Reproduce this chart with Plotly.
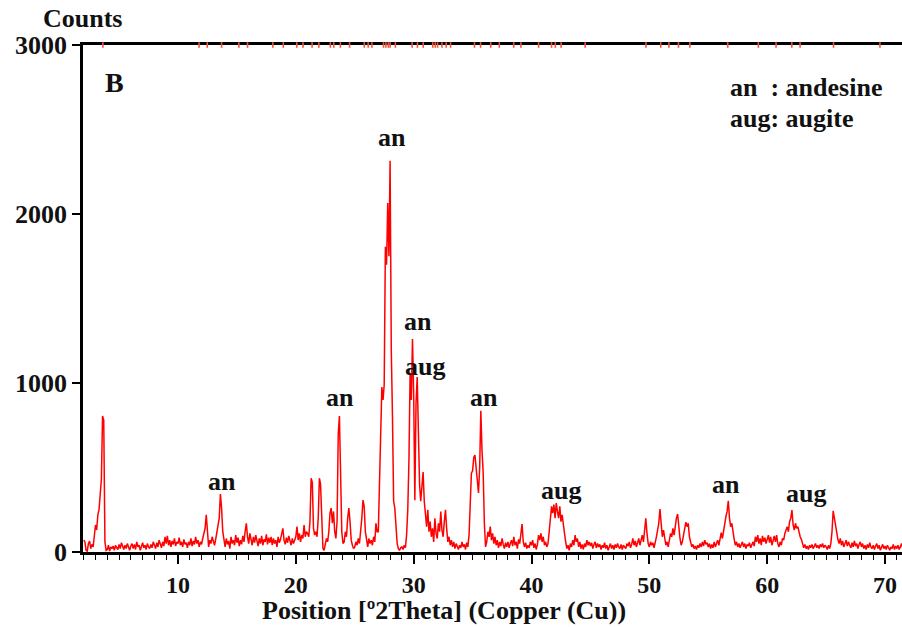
import plotly.graph_objects as go

# ---- data -------------------------------------------------------------
THETA_START = 2.0   # first 2Theta position
THETA_STEP = 0.1    # step between readings

# counts, one row per degree (d.0 ... d.9)
COUNTS = [
    70, 60, 10, 5, 50, 65, 20, 45, 30, 100,            # 2
    160, 130, 220, 250, 370, 430, 805, 780, 60, 10,    # 3
    15, 40, 5, 30, 20, 35, 10, 40, 25, 15,             # 4
    45, 20, 55, 30, 15, 40, 20, 50, 25, 10,            # 5
    35, 50, 20, 45, 15, 60, 30, 40, 10, 35,            # 6
    55, 25, 40, 15, 50, 30, 20, 45, 25, 60,            # 7
    35, 20, 55, 30, 70, 40, 25, 60, 35, 90,            # 8
    50, 95, 40, 70, 30, 65, 45, 80, 35, 60,            # 9
    50, 85, 40, 60, 30, 75, 45, 55, 25, 60,            # 10
    40, 80, 35, 65, 45, 90, 50, 70, 30, 60,            # 11
    45, 80, 110, 140, 220, 90, 30, 70, 50, 90,         # 12
    60, 40, 75, 110, 150, 200, 343, 260, 120, 60,      # 13
    30, 80, 45, 65, 20, 90, 50, 70, 40, 100,           # 14
    55, 85, 35, 70, 45, 95, 60, 120, 170, 90,          # 15
    50, 110, 70, 40, 90, 55, 100, 60, 35, 80,          # 16
    50, 95, 40, 75, 60, 105, 45, 85, 55, 90,           # 17
    40, 80, 50, 70, 30, 90, 55, 75, 100, 140,          # 18
    70, 45, 85, 55, 95, 60, 40, 80, 50, 70,            # 19
    90, 150, 70, 110, 60, 100, 80, 160, 90, 120,       # 20
    110, 90, 180, 437, 410, 140, 100, 120, 90, 200,    # 21
    437, 400, 150, 20, 10, 50, 80, 60, 120, 230,       # 22
    260, 170, 240, 120, 80, 180, 700, 805, 460, 120,   # 23
    50, 60, 120, 90, 200, 260, 180, 70, 40, 20,        # 24
    30, 60, 40, 80, 50, 110, 200, 307, 270, 120,       # 25
    60, 30, 80, 50, 70, 40, 90, 60, 170, 120,          # 26
    120, 390, 700, 976, 900, 990, 1806, 1700, 2065, 1750,  # 27
    2315, 1200, 810, 300, 260, 120, 50, 20, 10, 25,    # 28
    30, 15, 40, 25, 100, 250, 544, 1060, 900, 1260,    # 29
    940, 307, 880, 1035, 700, 400, 300, 380, 473, 300, # 30
    207, 150, 250, 120, 180, 90, 140, 60, 200, 110,    # 31
    80, 170, 120, 240, 130, 90, 180, 250, 140, 60,     # 32
    90, 40, 70, 30, 60, 20, 50, 35, 15, 40,            # 33
    25, 60, 30, 45, 15, 55, 30, 100, 250, 467,         # 34
    480, 560, 574, 500, 420, 349, 497, 836, 600, 467,  # 35
    170, 30, 60, 120, 90, 150, 70, 110, 50, 90,        # 36
    40, 70, 25, 60, 35, 80, 45, 20, 55, 30,            # 37
    60, 25, 50, 70, 35, 90, 40, 60, 20, 75,            # 38
    50, 100, 165, 60, 30, 55, 20, 40, 25, 60,          # 39
    40, 70, 25, 50, 15, 45, 100, 70, 110, 60,          # 40
    90, 40, 60, 30, 50, 120, 200, 270, 230, 280,       # 41
    200, 290, 240, 200, 270, 180, 220, 140, 110, 60,   # 42
    20, 40, 10, 50, 30, 70, 40, 100, 60, 80,           # 43
    30, 60, 20, 45, 15, 50, 30, 70, 40, 60,            # 44
    35, 55, 20, 45, 60, 25, 50, 30, 45, 15,            # 45
    40, 25, 55, 20, 40, 10, 35, 50, 20, 40,            # 46
    15, 45, 25, 50, 30, 20, 45, 15, 40, 30,            # 47
    20, 50, 35, 60, 25, 45, 80, 40, 65, 30,            # 48
    55, 80, 40, 70, 100, 60, 130, 200, 110, 50,        # 49
    30, 60, 40, 55, 25, 70, 90, 130, 170, 254,         # 50
    150, 90, 130, 70, 40, 60, 30, 70, 110, 90,         # 51
    140, 100, 160, 200, 225, 120, 80, 40, 60, 100,     # 52
    130, 177, 150, 170, 90, 60, 30, 45, 20, 35,        # 53
    15, 40, 25, 50, 30, 60, 35, 70, 45, 55,            # 54
    30, 50, 20, 45, 25, 60, 30, 50, 70, 40,            # 55
    90, 115, 80, 130, 160, 210, 240, 303, 200, 150,    # 56
    170, 110, 75, 40, 60, 30, 50, 25, 45, 60,          # 57
    30, 50, 20, 45, 35, 55, 25, 40, 60, 35,            # 58
    90, 60, 100, 50, 80, 40, 95, 60, 85, 50,           # 59
    70, 100, 55, 90, 40, 75, 95, 60, 100, 50,          # 60
    30, 60, 40, 80, 70, 110, 130, 150, 120, 180,       # 61
    200, 248, 160, 130, 170, 140, 150, 110, 90, 75,    # 62
    40, 25, 45, 20, 35, 15, 40, 25, 45, 20,            # 63
    35, 50, 25, 40, 20, 45, 30, 50, 25, 40,            # 64
    30, 15, 40, 20, 50, 120, 244, 200, 150, 110,       # 65
    75, 50, 80, 40, 65, 30, 55, 70, 35, 60,            # 66
    40, 25, 55, 30, 65, 35, 50, 20, 45, 60,            # 67
    30, 50, 20, 40, 15, 45, 25, 55, 30, 20,            # 68
    40, 15, 35, 50, 20, 40, 10, 30, 45, 20,            # 69
    35, 15, 40, 25, 10, 30, 20, 45, 15, 35,            # 70
    20, 40, 15, 30, 50, 25, 40, 20,                    # 71
]

# reference-pattern positions marked on the top axis (2Theta)
REF_MARKS = [3.63, 11.79, 12.48, 13.70, 15.17, 15.90, 18.05, 18.94, 20.08,
             20.61, 21.38, 21.95, 22.93, 23.22, 23.78, 24.56, 25.81, 26.14,
             26.46, 27.44, 27.64, 27.85, 28.00, 28.45, 29.87, 30.32, 30.81,
             31.62, 31.83, 32.03, 32.40, 32.76, 33.13, 35.16, 35.68, 36.54,
             37.27, 38.49, 39.10, 40.60, 41.70, 42.02, 42.51, 44.55, 49.71,
             50.97, 51.66, 52.47, 53.44, 56.65, 59.25, 60.75, 62.09, 62.79,
             65.63, 69.57]

# peak labels: text, 2Theta, counts position of label
PEAK_TEXT = ["an", "an", "an", "an", "aug", "an", "aug", "an", "aug"]
PEAK_X = [13.76, 23.79, 28.2, 30.33, 30.93, 35.94, 42.48, 56.5, 63.3]
PEAK_Y = [420, 917, 2450, 1361, 1095, 917, 361, 402, 349]

LEGEND_LINES = ["an  : andesine", "aug: augite"]

X_TICKS = [10, 20, 30, 40, 50, 60, 70]
Y_TICKS = [0, 1000, 2000, 3000]

# ---- figure -----------------------------------------------------------
theta = [round(THETA_START + i * THETA_STEP, 2) for i in range(len(COUNTS))]

FONT = "Liberation Serif"
INK = "#111111"


def bold(s):
    return "<b>" + s + "</b>"


fig = go.Figure()
fig.add_trace(go.Scatter(
    x=theta, y=COUNTS, mode="lines",
    line=dict(color="#ff0000", width=1.5),
    hoverinfo="x+y", showlegend=False,
))
fig.add_trace(go.Scatter(
    x=REF_MARKS, y=[3000] * len(REF_MARKS), mode="markers",
    marker=dict(symbol="line-ns-open", size=4,
                line=dict(color="#ff8c00", width=1.6)),
    cliponaxis=False, hoverinfo="x", showlegend=False,
))

for t, px, py in zip(PEAK_TEXT, PEAK_X, PEAK_Y):
    fig.add_annotation(x=px, y=py, text=bold(t), showarrow=False,
                       font=dict(family=FONT, size=26, color=INK),
                       xanchor="center", yanchor="middle")

fig.add_annotation(xref="paper", yref="paper", x=0.024, y=0.927,
                   text=bold("B"), showarrow=False,
                   xanchor="left", yanchor="middle",
                   font=dict(family=FONT, size=28, color=INK))
for i, line in enumerate(LEGEND_LINES):
    fig.add_annotation(xref="paper", yref="paper", x=0.787,
                       y=0.917 - i * 0.061, text=bold(line), align="left",
                       showarrow=False, xanchor="left", yanchor="middle",
                       font=dict(family=FONT, size=26, color=INK))
fig.add_annotation(xref="paper", yref="paper", x=-0.0513, y=1.0,
                   yshift=27, text=bold("Counts"), showarrow=False,
                   xanchor="left", yanchor="middle",
                   font=dict(family=FONT, size=26, color=INK))
# x-axis title
fig.add_annotation(xref="paper", yref="paper", x=0.441, y=0.0,
                   yshift=-58, text=bold("Position [º2Theta] (Copper (Cu))"),
                   showarrow=False, xanchor="center", yanchor="middle",
                   font=dict(family=FONT, size=26, color=INK))

fig.update_xaxes(
    range=[1.94, 71.44], tickvals=X_TICKS,
    ticktext=[bold(str(v)) for v in X_TICKS],
    showline=True, linecolor="black", linewidth=2.5, mirror=True,
    ticks="outside", ticklen=9, tickwidth=2, tickcolor="black",
    minor=dict(dtick=1, tick0=0, ticks="outside", ticklen=5,
               tickwidth=1.3, tickcolor="black"),
    showgrid=False, zeroline=False, layer="below traces",
    tickfont=dict(family=FONT, size=24, color=INK),
)
fig.update_yaxes(
    range=[0, 3000], tickvals=Y_TICKS,
    ticktext=[bold(str(v)) for v in Y_TICKS],
    showline=True, linecolor="black", linewidth=2.5,
    ticks="outside", ticklen=8, tickwidth=2, tickcolor="black",
    showgrid=False, zeroline=False,
    tickfont=dict(family=FONT, size=26, color=INK),
)

fig.update_layout(
    width=902, height=627,
    margin=dict(l=83, r=0, t=45, b=75),
    paper_bgcolor="white", plot_bgcolor="white",
    font=dict(family=FONT, color=INK),
    showlegend=False,
)

fig.write_html("out.html")
